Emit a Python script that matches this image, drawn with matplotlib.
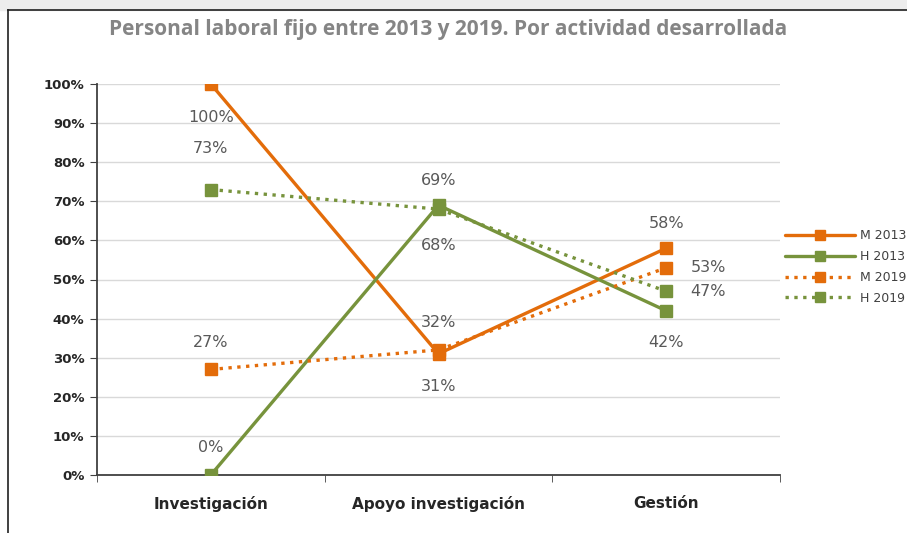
import matplotlib.pyplot as plt
from matplotlib.patches import Rectangle

categories = ["Investigación", "Apoyo investigación", "Gestión"]
m_2013 = [100, 31, 58]
h_2013 = [0, 69, 42]
m_2019 = [27, 32, 53]
h_2019 = [73, 68, 47]

# label offsets in pixels (dx, dy) for each point
m_2013_off = [(0, -33), (0, -33), (0, 25)]
h_2013_off = [(0, 27), (0, 25), (0, -32)]
m_2019_off = [(0, 27), (0, 27), (42, 0)]
h_2019_off = [(0, 41), (0, -36), (42, 0)]

ORANGE = "#E36C0A"
GREEN = "#77933C"

fig = plt.figure(figsize=(9.07, 5.33), dpi=100)
ax = fig.add_axes([97 / 907, 1 - 475 / 533, 683 / 907, 391 / 533])

x = list(range(len(categories)))
series = [
    ("M 2013", m_2013, ORANGE, "-", m_2013_off),
    ("H 2013", h_2013, GREEN, "-", h_2013_off),
    ("M 2019", m_2019, ORANGE, ":", m_2019_off),
    ("H 2019", h_2019, GREEN, ":", h_2019_off),
]

for name, vals, color, ls, offs in series:
    ax.plot(x, vals, color=color, linestyle=ls, linewidth=2.4,
            marker="s", markersize=8.5, label=name, zorder=3,
            solid_capstyle="round", dash_capstyle="butt")
    for xi, v, (dx, dy) in zip(x, vals, offs):
        ax.annotate(f"{v}%", (xi, v), textcoords="offset pixels",
                    xytext=(dx, dy), ha="center", va="center",
                    fontsize=11.5, color="#595959", zorder=4)

ax.set_xlim(-0.5, 2.5)
ax.set_ylim(0, 100)
ax.set_yticks(range(0, 101, 10))
ax.set_yticklabels([f"{v}%" for v in range(0, 101, 10)],
                   fontsize=9.5, fontweight="bold", color="#262626")
ax.set_xticks(x)
ax.set_xticklabels(categories, fontsize=11, fontweight="bold", color="#262626")
ax.tick_params(axis="x", length=0, pad=15)
ax.set_xticks([-0.5, 0.5, 1.5, 2.5], minor=True)
ax.tick_params(axis="x", which="minor", length=5, direction="out", color="#404040")
ax.tick_params(axis="y", length=5, color="#404040", pad=4)

ax.grid(axis="y", color="#D9D9D9", linewidth=1)
ax.set_axisbelow(True)
for s in ["top", "right"]:
    ax.spines[s].set_visible(False)
ax.spines["left"].set_color("#404040")
ax.spines["bottom"].set_color("#404040")
ax.spines["left"].set_linewidth(1.3)
ax.spines["bottom"].set_linewidth(1.3)

fig.text(448 / 907, 1 - 30 / 533,
         "Personal laboral fijo entre 2013 y 2019. Por actividad desarrollada",
         ha="center", va="center", fontsize=15, fontweight="bold",
         color="#858585", family="Open Sans")

fig.legend(loc="center left", bbox_to_anchor=(774 / 907, 1 - 267 / 533),
           frameon=False, fontsize=9, handlelength=5.6, labelspacing=0.62,
           handletextpad=0.35, labelcolor="#404040", markerscale=0.9)

# screenshot frame
fig.patches.append(Rectangle((0, 1 - 10 / 533), 1, 10 / 533,
                             transform=fig.transFigure, color="#EDEDED", zorder=0))
fig.add_artist(plt.Line2D([8 / 907, 8 / 907], [0, 1 - 10 / 533],
                          transform=fig.transFigure, color="#202020", linewidth=1.2))
fig.add_artist(plt.Line2D([8 / 907, 1], [1 - 10 / 533, 1 - 10 / 533],
                          transform=fig.transFigure, color="#202020", linewidth=1.2))

fig.savefig("out.png", dpi=100)
